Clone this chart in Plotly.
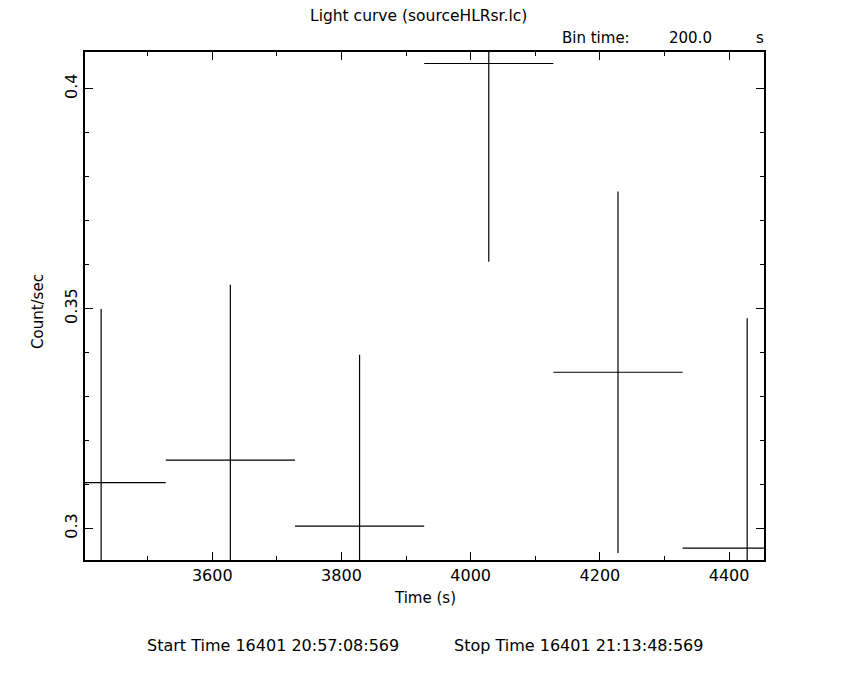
import plotly.graph_objects as go

# Data
time_s = [3428, 3628, 3828, 4028, 4228, 4428]
half_bin = [100, 100, 100, 100, 100, 100]
rate = [0.3104, 0.3155, 0.3005, 0.4057, 0.3355, 0.2955]
rate_err = [0.0395, 0.0399, 0.0390, 0.0451, 0.0411, 0.0523]

title_text = "Light curve (sourceHLRsr.lc)"
bin_label = "Bin time:"
bin_value = "200.0"
bin_unit = "s"
start_text = "Start Time 16401 20:57:08:569"
stop_text = "Stop Time 16401 21:13:48:569"

FONT = "DejaVu Sans"
OFF = 8  # page body margin
W, H = 850, 680
# desired plot box in screen pixels: x 85..764, y 52..560
X0, X1, Y0, Y1 = 85, 764, 52, 560
L, T = X0 - OFF, Y0 - OFF
R = W - (X1 - OFF)
B = H - (Y1 - OFF)
PW, PH = X1 - X0, Y1 - Y0

def px(x):
    return (x - X0) / PW

def py(y):
    return (Y1 - y) / PH

fig = go.Figure()
fig.add_trace(go.Scatter(
    x=time_s, y=rate, mode="markers",
    marker=dict(size=1, color="black"),
    error_x=dict(type="data", array=half_bin, color="black", thickness=1.2, width=0),
    error_y=dict(type="data", array=rate_err, color="black", thickness=1.2, width=0),
    showlegend=False, cliponaxis=True,
))

axis_common = dict(
    showgrid=False, zeroline=False, showline=True, linecolor="black", linewidth=1.5,
    mirror="ticks", ticks="inside", ticklen=8, tickwidth=1.2, tickcolor="black",
    tickfont=dict(family=FONT, size=16, color="black"),
)
fig.update_xaxes(range=[3403, 4454], dtick=200, tick0=0,
                 minor=dict(dtick=100, ticks="inside", ticklen=4, tickcolor="black", tickwidth=1.2),
                 **axis_common)
fig.update_yaxes(range=[0.2928, 0.40832], dtick=0.05, tick0=0, tickangle=-90,
                 minor=dict(dtick=0.01, ticks="inside", ticklen=4, tickcolor="black", tickwidth=1.2),
                 **axis_common)

def ann(text, x, y, size=15, angle=0, xanchor="center"):
    fig.add_annotation(text=text, x=px(x), y=py(y), xref="paper", yref="paper",
                       showarrow=False, xanchor=xanchor, yanchor="middle", textangle=angle,
                       font=dict(family=FONT, size=size, color="black"))

ann(title_text, 418, 16, size=15.5)
ann(bin_label, 560, 38, xanchor="left")
ann(bin_value, 690, 38)
ann(bin_unit, 760, 38)
ann("Time (s)", 425, 598)
ann("Count/sec", 38, 312, angle=-90)
ann(start_text, 145, 645, size=16, xanchor="left")
ann(stop_text, 705, 645, size=16, xanchor="right")

fig.update_layout(
    width=W, height=H, margin=dict(l=L, r=R, t=T, b=B),
    paper_bgcolor="white", plot_bgcolor="white",
    font=dict(family=FONT, color="black"),
)
fig.write_html("out.html")
